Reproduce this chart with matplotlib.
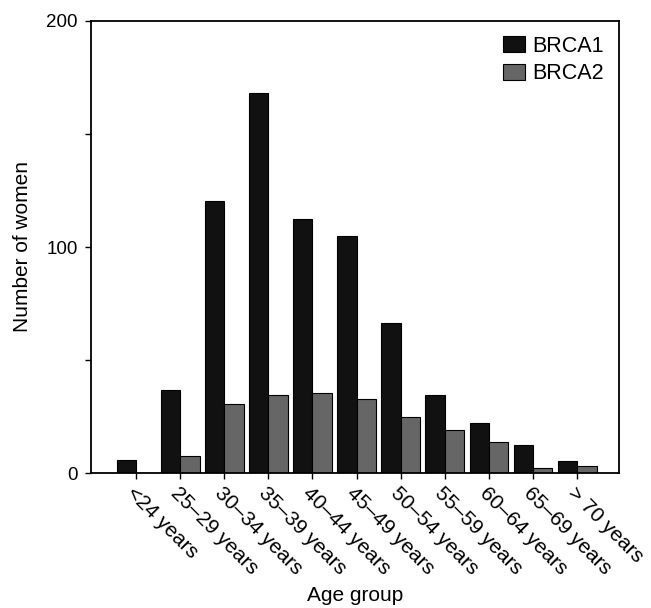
import matplotlib
matplotlib.use('Agg')
from matplotlib import pyplot as plt
import numpy as np

plt.rcParams['font.family'] = ['Liberation Sans', 'DejaVu Sans']

age_groups = ['<24 years', '25\u201329 years', '30\u201334 years', '35\u201339 years',
              '40\u201344 years', '45\u201349 years', '50\u201354 years', '55\u201359 years',
              '60\u201364 years', '65\u201369 years', '> 70 years']
brca1 = [6, 37, 120.5, 168, 112.5, 105, 66.5, 34.7, 22.3, 12.6, 5.6]
brca2 = [0, 7.6, 30.5, 34.6, 35.3, 33, 25, 19.1, 13.7, 2.5, 3.4]

fig = plt.figure(figsize=(6.51, 6.08), dpi=100)
ax = fig.add_axes([0.1398, 0.2215, 0.8112, 0.7445])

x = np.arange(len(age_groups))
w = 0.44
ax.bar(x, brca1, width=-w, align='edge', color='#111111', edgecolor='black', linewidth=0.8, label='BRCA1')
ax.bar(x, brca2, width=w, align='edge', color='#666666', edgecolor='black', linewidth=0.8, label='BRCA2')

ax.set_xlim(-1.02, 10.95)
ax.set_ylim(0, 200)
ax.set_yticks([0, 100, 200])
ax.set_yticks([50, 150], minor=True)
ax.tick_params(axis='y', which='both', direction='out', length=4.5, width=1, pad=5, labelsize=13.5)
ax.tick_params(axis='x', direction='out', length=4, width=1)
ax.set_xticks(x)
ax.set_xticklabels(age_groups, rotation=-45, ha='left', va='top', rotation_mode='anchor', fontsize=15)

for s in ax.spines.values():
    s.set_linewidth(1.3)

ax.set_ylabel('Number of women', fontsize=15)
ax.set_xlabel('Age group', fontsize=15)
ax.yaxis.set_label_coords(-0.112, 0.5)
ax.xaxis.set_label_coords(0.5, -0.248)

ax.legend(loc='upper right', frameon=False, fontsize=15.5, handlelength=1.0, handleheight=0.75,
          handletextpad=0.35, labelspacing=0.3, borderaxespad=0.3)

fig.savefig('out.png', dpi=100)
